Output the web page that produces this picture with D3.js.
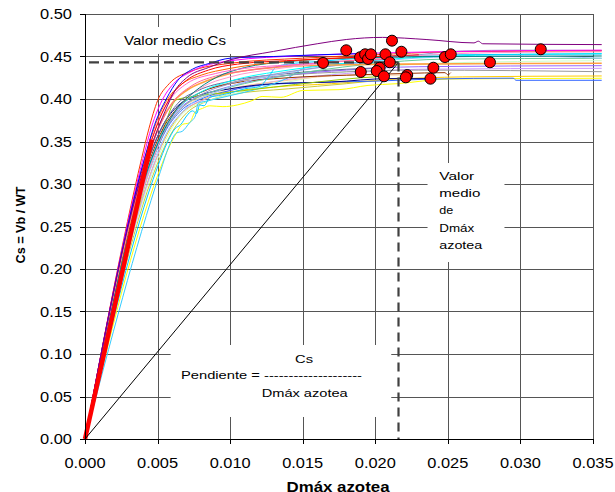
<!DOCTYPE html>
<html><head><meta charset="utf-8">
<script src="https://cdn.jsdelivr.net/npm/d3@7"></script>
<style>body{margin:0;background:#fff}svg{display:block}text{font-family:"Liberation Sans",Arial,sans-serif;fill:#000}</style>
</head><body><svg id="c" width="615" height="492"></svg>
<script>
const xTicks=[0,0.005,0.010,0.015,0.020,0.025,0.030,0.035];
const yTicks=[0,0.05,0.10,0.15,0.20,0.25,0.30,0.35,0.40,0.45,0.50];

// pushover curves [Dmax azotea, Cs]
const c01=[[0,0],[0.0040,0.315],[0.0048,0.355],[0.0055,0.385],[0.0062,0.410],[0.0070,0.425],[0.0085,0.437],[0.0100,0.446],[0.0130,0.456],[0.0160,0.465],[0.0180,0.470],[0.0205,0.4725],[0.0235,0.470],[0.0268,0.4660],[0.0271,0.4680],[0.0274,0.4650],[0.0356,0.4640]];
const c02=[[0,0],[0.0041,0.330],[0.0048,0.370],[0.0056,0.400],[0.0064,0.422],[0.0074,0.435],[0.0086,0.442],[0.0100,0.448],[0.0130,0.450],[0.0160,0.452],[0.0195,0.4535]];
const c03=[[0,0],[0.0040,0.330],[0.0046,0.368],[0.0053,0.398],[0.0061,0.418],[0.0073,0.432],[0.0100,0.445],[0.0150,0.451],[0.0200,0.454],[0.0260,0.456],[0.0356,0.4575]];
const c04=[[0,0],[0.0039,0.330],[0.0044,0.365],[0.0050,0.398],[0.0058,0.418],[0.0072,0.432],[0.0100,0.442],[0.0150,0.448],[0.0200,0.452],[0.0250,0.4555],[0.0356,0.4568]];
const c05=[[0,0],[0.0046,0.352],[0.0053,0.383],[0.0060,0.405],[0.0070,0.422],[0.0085,0.434],[0.0105,0.441],[0.0150,0.446],[0.0200,0.450],[0.0230,0.452]];
const c06=[[0,0],[0.0045,0.340],[0.0052,0.372],[0.0060,0.395],[0.0070,0.410],[0.0085,0.422],[0.0100,0.430],[0.0130,0.437],[0.0170,0.440],[0.0220,0.441],[0.0356,0.4420]];
const c07=[[0,0],[0.0042,0.335],[0.0049,0.372],[0.0057,0.400],[0.0067,0.418],[0.0080,0.428],[0.0100,0.436],[0.0130,0.443],[0.0160,0.447],[0.0190,0.4491]];
const c08=[[0,0],[0.0046,0.330],[0.0055,0.365],[0.0064,0.390],[0.0075,0.408],[0.0090,0.425],[0.0110,0.437],[0.0140,0.444],[0.0180,0.448],[0.0250,0.450],[0.0356,0.4506]];
const c09=[[0,0],[0.0047,0.330],[0.0056,0.368],[0.0066,0.393],[0.0080,0.413],[0.0100,0.426],[0.0130,0.435],[0.0170,0.443],[0.0220,0.450],[0.0280,0.4545],[0.0356,0.4555]];
const c10=[[0,0],[0.0044,0.335],[0.0052,0.370],[0.0061,0.397],[0.0073,0.415],[0.0090,0.427],[0.0110,0.433],[0.0150,0.441],[0.0190,0.446],[0.0207,0.4471]];
const c11=[[0,0],[0.0048,0.330],[0.0058,0.365],[0.0070,0.390],[0.0090,0.408],[0.0110,0.420],[0.0150,0.434],[0.0200,0.444],[0.0240,0.449],[0.0300,0.4505],[0.0356,0.4480]];
const c12=[[0,0],[0.0050,0.320],[0.0057,0.350],[0.0062,0.365],[0.0066,0.370],[0.0070,0.380],[0.0074,0.386],[0.0077,0.383],[0.0079,0.393],[0.0082,0.392],[0.0086,0.402],[0.0092,0.404],[0.0100,0.407],[0.0110,0.412],[0.0120,0.4145],[0.0126,0.425],[0.0132,0.438],[0.0140,0.441],[0.0160,0.444],[0.0190,0.448],[0.0250,0.452],[0.0356,0.4529]];
const c13=[[0,0],[0.0052,0.315],[0.0058,0.345],[0.0063,0.360],[0.0067,0.362],[0.0072,0.372],[0.0076,0.380],[0.0078,0.395],[0.0085,0.398],[0.0100,0.404],[0.0115,0.410],[0.0130,0.418],[0.0140,0.425],[0.0152,0.437],[0.0170,0.441],[0.0200,0.443],[0.0210,0.4432]];
const c14=[[0,0],[0.0050,0.310],[0.0057,0.340],[0.0063,0.360],[0.0067,0.370],[0.0072,0.372],[0.0076,0.385],[0.0081,0.389],[0.0086,0.392],[0.0095,0.391],[0.0105,0.393],[0.0115,0.398],[0.0122,0.403],[0.0135,0.402],[0.0150,0.410],[0.0175,0.411],[0.0195,0.416],[0.0215,0.418],[0.0250,0.4235],[0.0356,0.4244]];
const c15=[[0,0],[0.0048,0.325],[0.0057,0.360],[0.0066,0.382],[0.0080,0.398],[0.0100,0.408],[0.0130,0.414],[0.0170,0.418],[0.0210,0.423],[0.0260,0.426],[0.0356,0.4271]];
const c16=[[0,0],[0.0046,0.330],[0.0055,0.366],[0.0066,0.392],[0.0080,0.408],[0.0100,0.419],[0.0140,0.428],[0.0180,0.432],[0.0230,0.434],[0.0356,0.4321]];
const c17=[[0,0],[0.0045,0.335],[0.0054,0.370],[0.0064,0.395],[0.0078,0.410],[0.0100,0.421],[0.0140,0.430],[0.0180,0.435],[0.0203,0.4368]];
const c18=[[0,0],[0.0047,0.330],[0.0056,0.366],[0.0067,0.390],[0.0082,0.407],[0.0100,0.418],[0.0140,0.432],[0.0180,0.441],[0.0220,0.450],[0.0260,0.4565],[0.0300,0.4575],[0.0356,0.4570]];
const c19=[[0,0],[0.0046,0.325],[0.0054,0.365],[0.0063,0.399],[0.0075,0.403],[0.0100,0.408],[0.0130,0.414],[0.0160,0.420],[0.0190,0.425],[0.0206,0.4267]];
const c20=[[0,0],[0.0049,0.325],[0.0058,0.360],[0.0068,0.384],[0.0085,0.398],[0.0100,0.405],[0.0140,0.420],[0.0180,0.432],[0.0240,0.442],[0.0356,0.4451]];
const c21=[[0,0],[0.0047,0.330],[0.0056,0.366],[0.0067,0.390],[0.0082,0.405],[0.0100,0.414],[0.0140,0.428],[0.0190,0.440],[0.0250,0.447],[0.0356,0.4479]];
const c22=[[0,0],[0.0048,0.325],[0.0057,0.362],[0.0068,0.386],[0.0085,0.401],[0.0100,0.410],[0.0140,0.423],[0.0180,0.430],[0.0230,0.435],[0.0356,0.4361]];
const c23=[[0,0],[0.0046,0.330],[0.0055,0.366],[0.0066,0.390],[0.0082,0.405],[0.0100,0.415],[0.0140,0.428],[0.0180,0.434],[0.0230,0.438],[0.0356,0.4392]];
const c24=[[0,0],[0.0047,0.330],[0.0056,0.364],[0.0066,0.386],[0.0080,0.400],[0.0100,0.410],[0.0120,0.416],[0.0150,0.419],[0.0200,0.421],[0.0240,0.4235],[0.0295,0.4245],[0.0297,0.4220],[0.0356,0.4220]];
const c25=[[0,0],[0.0045,0.330],[0.0054,0.366],[0.0064,0.390],[0.0080,0.408],[0.0100,0.418],[0.0140,0.425],[0.0180,0.428],[0.0220,0.430],[0.0248,0.431],[0.0250,0.4285],[0.0252,0.431]];
const c26=[[0,0],[0.0046,0.330],[0.0055,0.366],[0.0066,0.392],[0.0082,0.410],[0.0100,0.421],[0.0140,0.434],[0.0180,0.442],[0.0240,0.450],[0.0356,0.4535]];
const c27=[[0,0],[0.0047,0.330],[0.0056,0.365],[0.0066,0.388],[0.0082,0.403],[0.0100,0.412],[0.0140,0.422],[0.0180,0.428],[0.0222,0.4282]];
const c28=[[0,0],[0.0045,0.335],[0.0054,0.370],[0.0064,0.392],[0.0080,0.405],[0.0100,0.412],[0.0130,0.418],[0.0170,0.420],[0.0210,0.424],[0.0238,0.4239]];
const c29=[[0,0],[0.0049,0.320],[0.0058,0.355],[0.0068,0.380],[0.0085,0.398],[0.0100,0.405],[0.0140,0.412],[0.0180,0.418],[0.0221,0.4255]];
const c30=[[0,0],[0.0043,0.335],[0.0050,0.372],[0.0058,0.398],[0.0070,0.418],[0.0090,0.430],[0.0110,0.436],[0.0140,0.440],[0.0164,0.4424]];

const curves=[c29,c15,c14,c20,c22,c27,c24,c28,c13,c19,c16,c23,c25,c17,c21,c11,c26,c12,c18,c06,c09,c10,c08,c07,c30,c05,c04,c03,c02,c01];
const curveColors=["#cccc33","#ffcc00","#ffff00","#ccffcc","#cc99ff","#ffcc99","#3366ff","#000080","#33ccff","#99cc00","#999999","#9966ff","#993300","#666699","#66cc99","#99ccff","#00ffff","#00ccff","#9999cc","#ffa040","#ff99cc","#ff6699","#008080","#ff6600","#ff66cc","#ff0000","#ff3300","#ff00ff","#0000ff","#800080"];

// red initial stiffness segment
const stiffX=[0,0.0046], stiffY=[0,0.352];

// Dmax azotea and Cs of each building (red points)
const dotX=[0.0164,0.0180,0.01895,0.0193,0.0195,0.0197,0.0207,0.02115,0.0218,0.0210,0.0203,0.0201,0.0190,0.0206,0.0222,0.0221,0.0240,0.0238,0.0248,0.0252,0.0279,0.0314];
const dotY=[0.4424,0.4573,0.4491,0.4526,0.4471,0.4526,0.4526,0.4686,0.4556,0.4432,0.4368,0.4329,0.4318,0.4267,0.4282,0.4255,0.4368,0.4239,0.4494,0.4526,0.4432,0.4585];

const meanDmax=0.0216, meanCs=0.443;

const W=615,H=492,L=85,R=593,T=14,B=439;
const x=d3.scaleLinear().domain([0,0.035]).range([L,R]);
const y=d3.scaleLinear().domain([0,0.5]).range([B,T]);
const svg=d3.select('#c');
svg.append('rect').attr('width',W).attr('height',H).attr('fill','#fff');

// grid
const g=svg.append('g');
g.selectAll('line.v').data(xTicks.slice(1)).join('line').attr('class','v')
 .attr('x1',d=>Math.round(x(d))+0.5).attr('x2',d=>Math.round(x(d))+0.5).attr('y1',T).attr('y2',B)
 .attr('stroke','#555').attr('stroke-width',1);
g.selectAll('line.h').data(yTicks.slice(1)).join('line').attr('class','h')
 .attr('y1',d=>Math.round(y(d))+0.5).attr('y2',d=>Math.round(y(d))+0.5).attr('x1',L).attr('x2',R)
 .attr('stroke','#555').attr('stroke-width',1);

function txt(parent,px,py,s,size,len,opt={}){
  const t=parent.append('text').attr('x',px).attr('y',py).text(s).style('font-size',size+'px')
   .attr('textLength',len).attr('lengthAdjust','spacingAndGlyphs');
  if(opt.anchor) t.attr('text-anchor',opt.anchor);
  if(opt.bold) t.style('font-weight','bold');
  if(opt.rot) t.attr('transform',`rotate(-90,${px},${py})`);
  return t;
}

// annotation boxes (white)
const ann=svg.append('g');
function box(x0,x1,y0,y1){ann.append('rect').attr('x',x(x0)).attr('y',y(y1)).attr('width',x(x1)-x(x0)).attr('height',y(y0)-y(y1)).attr('fill','#fff');}
box(0.0010,0.0117,0.4530,0.4847);
box(0.0236,0.0289,0.2082,0.3247);
box(0.0059,0.0211,0.0259,0.1106);

// curves
const line=d3.line().x(d=>x(d[0])).y(d=>y(d[1])).curve(d3.curveMonotoneX);
svg.append('g').selectAll('path').data(curves).join('path')
 .attr('d',line).attr('fill','none').attr('stroke',(d,i)=>curveColors[i])
 .attr('stroke-width',(d,i)=>curveColors[i]==="#ffa040"?1.6:1);

svg.append('path').attr('d',d3.line()(stiffX.map((v,i)=>[x(v),y(stiffY[i])])))
 .attr('stroke','#ff0000').attr('stroke-width',4.5).attr('fill','none');

// slope line
svg.append('line').attr('x1',x(0)).attr('y1',y(0)).attr('x2',x(meanDmax)).attr('y2',y(meanCs))
 .attr('stroke','#000').attr('stroke-width',1);

// dashed mean lines
svg.append('line').attr('x1',x(0)).attr('x2',x(meanDmax)).attr('y1',y(meanCs)).attr('y2',y(meanCs))
 .attr('stroke','#404040').attr('stroke-width',2.2).attr('stroke-dasharray','10,5').attr('stroke-dashoffset',-4);
svg.append('line').attr('x1',x(meanDmax)).attr('x2',x(meanDmax)).attr('y1',y(meanCs)).attr('y2',y(0))
 .attr('stroke','#404040').attr('stroke-width',2.2).attr('stroke-dasharray','9,6');

// points
svg.append('g').selectAll('circle').data(dotX).join('circle')
 .attr('cx',d=>x(d)).attr('cy',(d,i)=>y(dotY[i])).attr('r',5.5)
 .attr('fill','#ff0000').attr('stroke','#000').attr('stroke-width',1);

// axes
const ax=svg.append('g');
ax.append('line').attr('x1',L+0.5).attr('x2',L+0.5).attr('y1',T).attr('y2',B+5).attr('stroke','#000');
ax.append('line').attr('x1',L-5).attr('x2',R).attr('y1',B+0.5).attr('y2',B+0.5).attr('stroke','#000');
ax.selectAll('line.yt').data(yTicks).join('line').attr('class','yt')
 .attr('x1',L-5).attr('x2',L).attr('y1',d=>Math.round(y(d))+0.5).attr('y2',d=>Math.round(y(d))+0.5).attr('stroke','#000');
ax.selectAll('line.xt').data(xTicks).join('line').attr('class','xt')
 .attr('x1',d=>Math.round(x(d))+0.5).attr('x2',d=>Math.round(x(d))+0.5).attr('y1',B).attr('y2',B+5).attr('stroke','#000');
yTicks.forEach(v=>txt(ax,72,y(v)+5,d3.format('.2f')(v),14,32,{anchor:'end'}));
xTicks.forEach(v=>txt(ax,x(v),468,d3.format('.3f')(v),15,41,{anchor:'middle'}));

// axis titles
txt(svg,25,225,'Cs = Vb / WT',13,77,{anchor:'middle',bold:true,rot:true});
txt(svg,338,492,'Dmáx azotea',14,103,{anchor:'middle',bold:true});

// annotation texts
txt(ann,x(0.00269),y(0.4635),'Valor medio Cs',13,102);
const dl=[['Valor',35],['medio',41],['de',14],['Dmáx',35],['azotea',43]];
const dly=[0.3047,0.2851,0.2644,0.2439,0.2232];
dl.forEach((d,i)=>txt(ann,x(0.02441),y(dly[i]),d[0],11,d[1]));
txt(ann,x(0.01509),y(0.0891),'Cs',11,18,{anchor:'middle'});
txt(ann,x(0.006614),y(0.0702),'Pendiente = --------------------',11,181);
txt(ann,x(0.012175),y(0.0491),'Dmáx azotea',11,86);
ann.raise();
</script></body></html>
